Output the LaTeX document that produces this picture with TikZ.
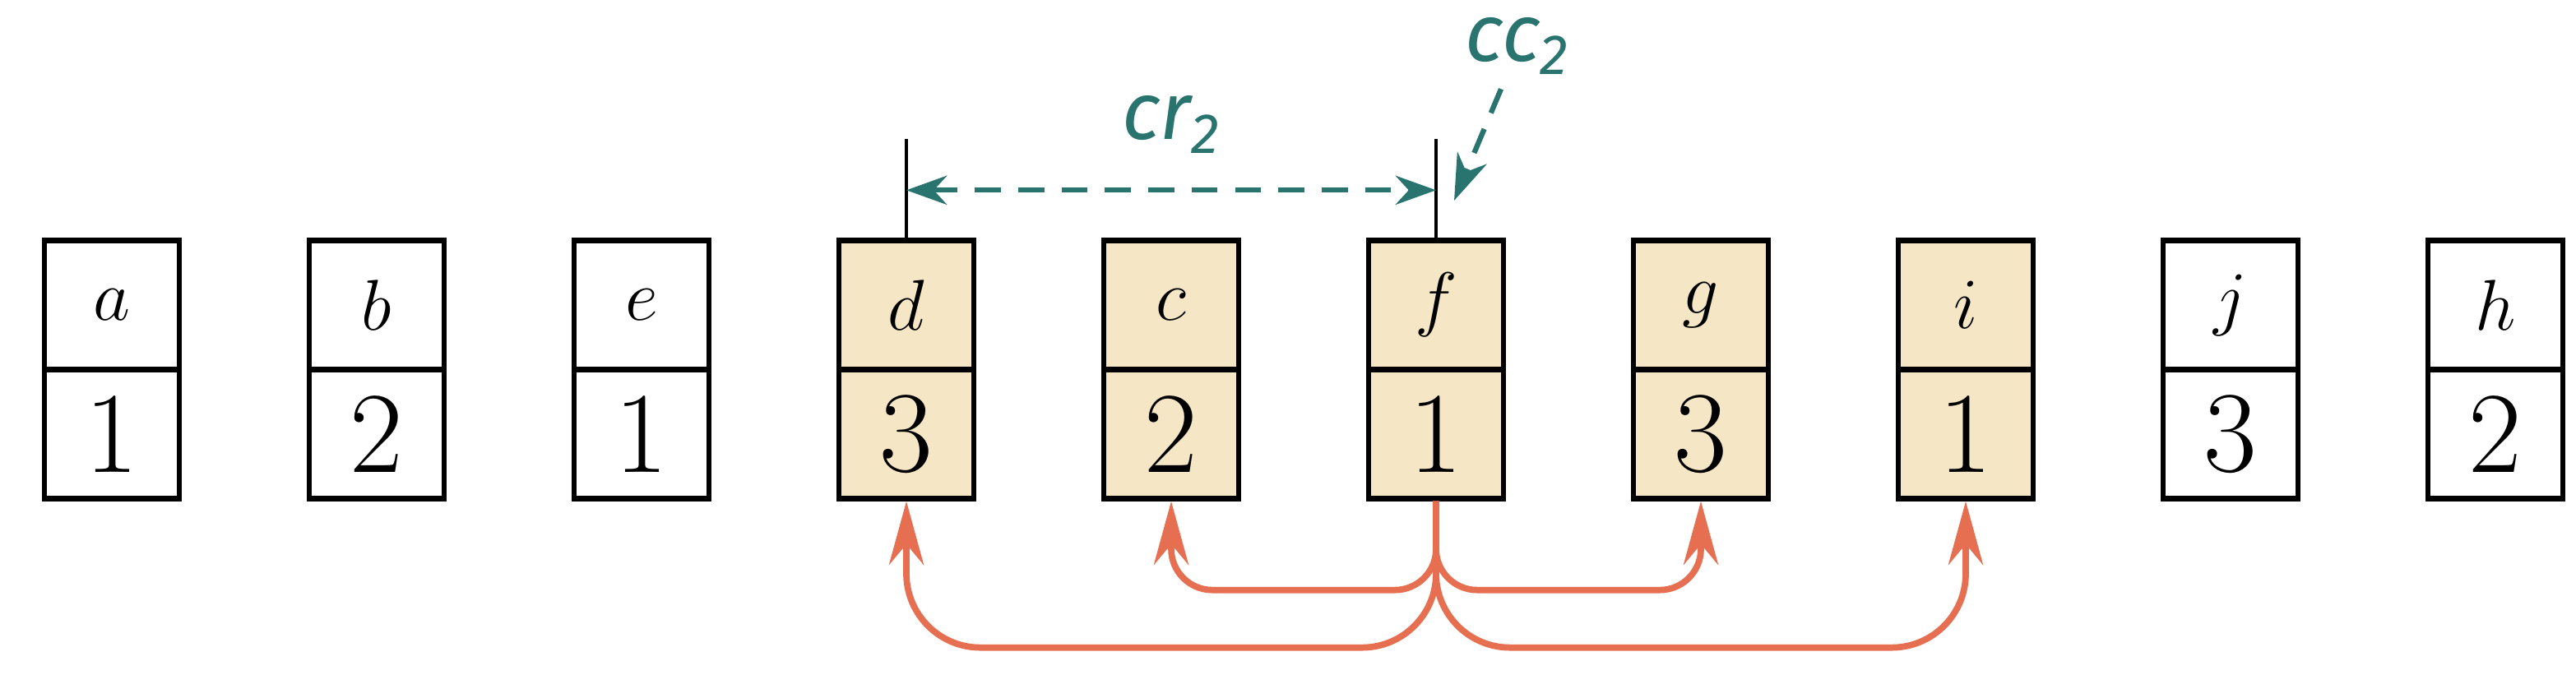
\documentclass[tikz,border=0pt]{standalone}
\usepackage{fontspec}
\newfontfamily\labfont{Fira Sans}
\usetikzlibrary{arrows.meta,positioning,calc}
\definecolor{cellfill}{HTML}{F5E7C6}
\definecolor{linkteal}{HTML}{2A7470}
\definecolor{linkred}{HTML}{E76F51}
\tikzset{
	key/.style={draw, line width=1.8pt, minimum width=1.64cm, minimum height=1.57cm, inner sep=0pt, font=\fontsize{40}{46}\selectfont},
	val/.style={key, below=-1.8pt of #1},
	sel/.style={fill=cellfill},
	measure/.style={linkteal, line width=1.8pt, dash pattern=on 9pt off 6pt, {Stealth[length=14pt,width=10pt]}-{Stealth[length=14pt,width=10pt]}},
	pointer/.style={linkteal, line width=1.8pt, dash pattern=on 9pt off 6pt, -{Stealth[length=16pt,width=11pt]}},
	spread/.style={linkred, line width=2.2pt, rounded corners=#1, -{Stealth[length=22pt,width=12pt]}}
}
\begin{document}
\begin{tikzpicture}
	\useasboundingbox (0,0) rectangle (31.32,8.49);
	% cells: name/value/position
	\foreach \n/\v/\x/\s in {a/1/1.36/,b/2/4.58/,e/1/7.80/,d/3/11.02/sel,c/2/14.24/sel,f/1/17.46/sel,g/3/20.68/sel,i/1/23.90/sel,j/3/27.12/,h/2/30.34/}{
		\node[key,\s] (k\n) at (\x,4.78) {$\n$};
		\node[val=k\n,\s] (v\n) {\v};
	}
	% measure above
	\coordinate (td) at ($(kd.north)+(0,1.2)$);
	\coordinate (tf) at ($(kf.north)+(0,1.2)$);
	\draw[line width=1.3pt] (kd.north) -- (td);
	\draw[line width=1.3pt] (kf.north) -- (tf);
	\draw[measure] ($(kd.north)+(0,0.58)$) -- node[above=0.3cm, font=\labfont\itshape\fontsize{28}{30}\selectfont] {cr\textsubscript{2}} ($(kf.north)+(0,0.58)$);
	\node[font=\labfont\itshape\fontsize{28}{30}\selectfont, linkteal] (cc) at (18.45,7.93) {cc\textsubscript{2}};
	\coordinate (cctip) at (17.68,6.05);
	\draw[pointer] ($(cc.south)+(-0.2,-0.05)$) -- (cctip);
	% spreading links
	\coordinate (low) at ($(vf.south)+(0,-1.08)$);
	\coordinate (lower) at ($(vf.south)+(0,-1.78)$);
	\draw[spread=0.5cm] (vf.south) -- (low) -- (low-|vc.south) -- (vc.south);
	\draw[spread=0.5cm] (vf.south) -- (low) -- (low-|vg.south) -- (vg.south);
	\draw[spread=0.9cm] (vf.south) -- (lower) -- (lower-|vd.south) -- (vd.south);
	\draw[spread=0.9cm] (vf.south) -- (lower) -- (lower-|vi.south) -- (vi.south);
\end{tikzpicture}
\end{document}
